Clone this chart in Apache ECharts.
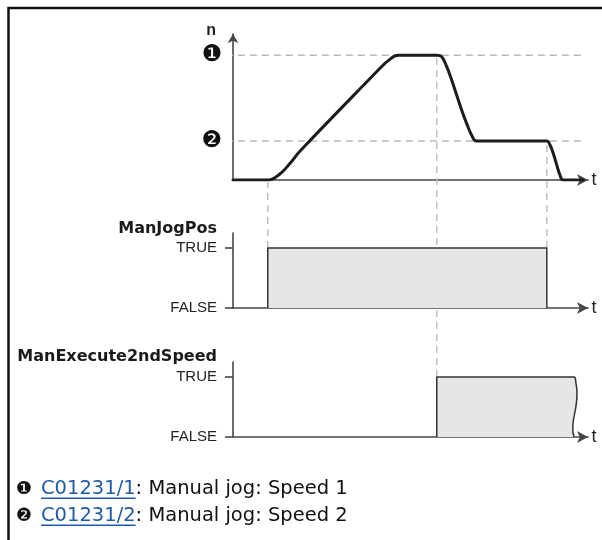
<!DOCTYPE html>
<html>
<head>
<meta charset="utf-8">
<script src="https://cdn.jsdelivr.net/npm/echarts@6/dist/echarts.min.js"></script>
<style>
  html, body { margin: 0; padding: 0; background: #fff; }
  #chart { width: 602px; height: 540px; }
</style>
</head>
<body>
<div id="chart"></div>
<script>
// Speed profile n(t) for manual jog with a switch to the second speed
const speedT = [0, 9.9, 13.2, 16.1, 18.9, 41.4, 42.8, 44.2, 45.6, 46.6, 57.4, 58.8, 60.2, 61.6, 63.0, 64.4, 65.8, 67.2, 68.6, 88.4, 89.3, 90.2, 91.2, 92.1, 93.0, 98.6];
const speedN = [0, 0, 4.8, 13.4, 23.2, 89.5, 93.5, 96.7, 99.4, 100, 100, 98.8, 90.8, 80.1, 68.1, 56.1, 45.4, 36.1, 31.2, 31.2, 28.0, 21.4, 12.0, 4.0, 0, 0];

// Speed levels 1 and 2 with their markers
const speedLevels = [100, 31.2];
const levelMarks = ['❶', '❷'];
const levelLineT = [-2, 98.3];

// ManJogPos signal (TRUE between switch-on and switch-off)
const jogPosT = [9.8, 9.8, 88.4, 88.4];
const jogPosV = [0, 1, 1, 0];

// ManExecute2ndSpeed signal, right edge drawn as a break line
const secondSpeedT = [57.4, 57.4, 96.1, 96.6, 96.9, 96.6, 95.9, 95.7, 96.1];
const secondSpeedV = [0, 1, 1, 0.9, 0.73, 0.51, 0.28, 0.12, 0];

// Switching instants linking the diagrams
const eventT = [9.8, 57.4, 88.4];

const boolLabels = ['FALSE', 'TRUE'];
const panelTitles = ['ManJogPos', 'ManExecute2ndSpeed'];
const timeName = 't';
const speedName = 'n';

// Footnotes
const noteMarks = ['❶', '❷'];
const noteCodes = ['C01231/1', 'C01231/2'];
const noteTexts = [': Manual jog: Speed 1', ': Manual jog: Speed 2'];

const AXIS_COLOR = '#474747';
const DASH_COLOR = '#bababa';
const SANS = '"Liberation Sans", Arial, sans-serif';
const WIDE = '"DejaVu Sans", sans-serif';

const zip = (xs, ys) => xs.map((x, i) => [x, ys[i]]);

const chart = echarts.init(document.getElementById('chart'), null, { renderer: 'canvas' });

const gridBase = { left: 233, right: 14 };
const grids = [
  Object.assign({ top: 34, height: 146 }, gridBase),   // speed diagram
  Object.assign({ top: 233, height: 75 }, gridBase),   // ManJogPos
  Object.assign({ top: 362, height: 75 }, gridBase),   // ManExecute2ndSpeed
  Object.assign({ top: 182, height: 66 }, gridBase),   // guide: start
  Object.assign({ top: 55, height: 322 }, gridBase),   // guide: 2nd speed on
  Object.assign({ top: 141, height: 107 }, gridBase)   // guide: stop
];

function timeAxis(gridIndex, nameDrop) {
  return {
    type: 'value', gridIndex: gridIndex, min: 0, max: 100,
    axisLine: {
      show: true, onZero: true,
      lineStyle: { color: AXIS_COLOR, width: 1.6 },
      symbol: ['none', 'arrow'], symbolSize: [9, 11]
    },
    axisTick: { show: false }, axisLabel: { show: false }, splitLine: { show: false },
    name: timeName, nameLocation: 'end', nameGap: 6,
    nameTextStyle: {
      fontFamily: SANS, fontSize: 18, color: '#222',
      align: 'center', verticalAlign: 'middle', padding: [nameDrop * 2, 0, 0, 0]
    }
  };
}

function hiddenAxis(gridIndex, max) {
  return {
    type: 'value', gridIndex: gridIndex, min: 0, max: max, show: false,
    splitLine: { show: false }
  };
}

function boolAxis(gridIndex, title, gap) {
  return {
    type: 'value', gridIndex: gridIndex, min: 0, max: 1.25,
    axisLine: { show: true, lineStyle: { color: AXIS_COLOR, width: 1.6 } },
    axisTick: { show: true, customValues: [0, 1], length: 8, lineStyle: { color: AXIS_COLOR, width: 1.6 } },
    axisLabel: {
      customValues: [0, 1], formatter: v => boolLabels[v],
      fontFamily: SANS, fontSize: 15, color: '#222', margin: 16
    },
    splitLine: { show: false },
    name: title, nameLocation: 'end', nameGap: gap,
    nameTextStyle: {
      fontFamily: WIDE, fontWeight: 'bold', fontSize: 16, color: '#1a1a1a',
      align: 'right', verticalAlign: 'middle', padding: [0, 16, 0, 0]
    }
  };
}

const xAxes = [
  timeAxis(0, 11), timeAxis(1, 12), timeAxis(2, 16),
  hiddenAxis(3, 100), hiddenAxis(4, 100), hiddenAxis(5, 100)
];

const yAxes = [
  {
    type: 'value', gridIndex: 0, min: 0, max: 117,
    axisLine: {
      show: true, lineStyle: { color: AXIS_COLOR, width: 1.6 },
      symbol: ['none', 'arrow'], symbolSize: [8, 9]
    },
    axisTick: { show: false },
    axisLabel: {
      customValues: speedLevels,
      formatter: v => levelMarks[speedLevels.indexOf(v)],
      fontFamily: WIDE, fontSize: 23, color: '#111', margin: 11
    },
    splitLine: { show: false },
    name: speedName, nameLocation: 'end', nameGap: 3,
    nameTextStyle: {
      fontFamily: SANS, fontWeight: 'bold', fontSize: 16, color: '#222',
      align: 'right', verticalAlign: 'middle', padding: [0, 17, 0, 0]
    }
  },
  boolAxis(1, panelTitles[0], 4),
  boolAxis(2, panelTitles[1], 5),
  hiddenAxis(3, 1), hiddenAxis(4, 1), hiddenAxis(5, 1)
];

const dashed = { color: DASH_COLOR, width: 1.4, type: [7, 5] };

const series = [];

// Horizontal guides at speed levels
speedLevels.forEach(level => {
  series.push({
    type: 'line', xAxisIndex: 0, yAxisIndex: 0, clip: false, silent: true,
    symbol: 'none', z: 1, lineStyle: dashed,
    data: levelLineT.map(t => [t, level])
  });
});

// Vertical guides at the switching instants
eventT.forEach((t, i) => {
  series.push({
    type: 'line', xAxisIndex: 3 + i, yAxisIndex: 3 + i, silent: true,
    symbol: 'none', z: 1, lineStyle: dashed,
    data: [[t, 0], [t, 1]]
  });
});

// Speed curve
series.push({
  type: 'line', xAxisIndex: 0, yAxisIndex: 0, symbol: 'none', z: 3,
  smooth: 0.4,
  lineStyle: { color: '#1c1c1c', width: 3, cap: 'round', join: 'round' },
  data: zip(speedT, speedN)
});

// Digital signals
const signalStyle = {
  type: 'line', symbol: 'none', z: 2, smooth: 0.5,
  lineStyle: { color: '#333', width: 1.5 },
  areaStyle: { color: '#e6e6e6', opacity: 1 }
};
series.push(Object.assign({}, signalStyle, { xAxisIndex: 1, yAxisIndex: 1, data: zip(jogPosT, jogPosV) }));
series.push(Object.assign({}, signalStyle, { xAxisIndex: 2, yAxisIndex: 2, data: zip(secondSpeedT, secondSpeedV) }));

// Footnotes
const NOTE_FONT = '19.5px "DejaVu Sans"';
const measureCtx = document.createElement('canvas').getContext('2d');
measureCtx.font = NOTE_FONT;
const noteY = [489, 516];
const noteCodeX = 41;
const graphics = [{
  type: 'polyline', silent: true,
  shape: { points: [[8.5, 540], [8.5, 8], [602, 8]] },
  style: { stroke: '#111', lineWidth: 2.5, fill: null }
}];
noteMarks.forEach((mark, i) => {
  const y = noteY[i];
  const codeW = measureCtx.measureText(noteCodes[i]).width;
  graphics.push({ type: 'text', x: 16, y: y, style: { text: mark, font: '18px "DejaVu Sans"', fill: '#111', verticalAlign: 'middle' } });
  graphics.push({ type: 'text', x: noteCodeX, y: y, style: { text: noteCodes[i], font: NOTE_FONT, fill: '#1f5ba8', verticalAlign: 'middle' } });
  graphics.push({ type: 'rect', shape: { x: noteCodeX, y: y + 8.5, width: codeW, height: 1.4 }, style: { fill: '#1f5ba8' } });
  graphics.push({ type: 'text', x: noteCodeX + codeW, y: y, style: { text: noteTexts[i], font: NOTE_FONT, fill: '#111', verticalAlign: 'middle' } });
});

chart.setOption({
  animation: false,
  backgroundColor: '#fff',
  grid: grids,
  xAxis: xAxes,
  yAxis: yAxes,
  series: series,
  graphic: graphics
});
</script>
</body>
</html>
